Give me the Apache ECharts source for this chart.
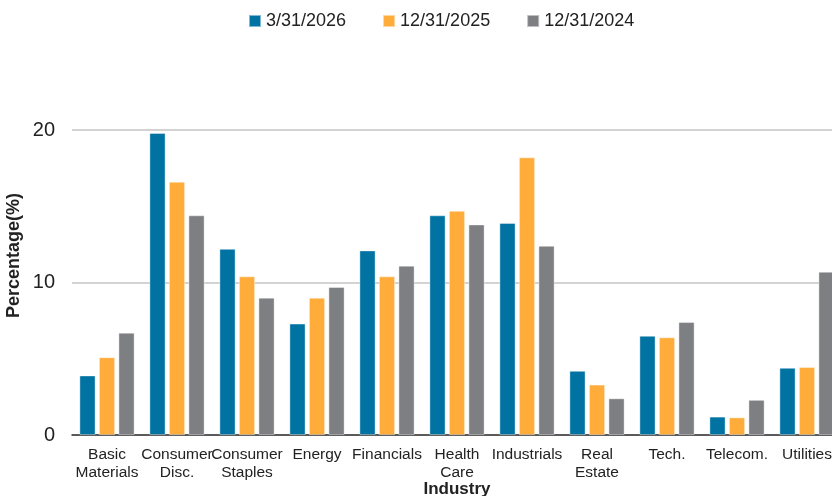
<!DOCTYPE html>
<html><head><meta charset="utf-8">
<script src="https://cdn.jsdelivr.net/npm/echarts@6/dist/echarts.min.js"></script>
<style>html,body{margin:0;padding:0;background:#fff}#c{width:832px;height:496px}</style>
</head><body><div id="c"></div>
<script>
const categories = ["Basic\nMaterials","Consumer\nDisc.","Consumer\nStaples","Energy","Financials","Health\nCare","Industrials","Real\nEstate","Tech.","Telecom.","Utilities"];
const seriesNames = ["3/31/2026","12/31/2025","12/31/2024"];
const s2026q1 = [3.9,19.8,12.2,7.3,12.1,14.4,13.9,4.2,6.5,1.2,4.4];
const s2025 = [5.1,16.6,10.4,9.0,10.4,14.7,18.2,3.3,6.4,1.15,4.45];
const s2024 = [6.7,14.4,9.0,9.7,11.1,13.8,12.4,2.4,7.4,2.3,10.7];
const yTicks = [0,10,20];
const colors = ["#0073A3","#FFAC3A","#7D7F83"];

const chart = echarts.init(document.getElementById('c'), null, {renderer:'canvas'});
const font = "'Liberation Sans', Arial, sans-serif";
const barStyle = {borderColor:'rgba(255,255,255,0.5)', borderWidth:0.8};
chart.setOption({
  animation:false,
  color: colors,
  legend:{
    top:7, left:243, itemWidth:12, itemHeight:12, itemGap:36,
    icon:'rect',
    textStyle:{fontSize:18, color:'#222', fontFamily:font},
    data: seriesNames
  },
  grid:{left:72, top:130, width:770, bottom:61, containLabel:false, outerBoundsMode:'none'},
  xAxis:{
    type:'category', data:categories,
    name:'Industry', nameLocation:'middle', nameGap:54, nameMoveOverlap:false,
    nameTextStyle:{fontSize:17, fontWeight:'bold', color:'#222', fontFamily:font, verticalAlign:'middle'},
    axisLine:{lineStyle:{color:'#333', width:1.5}},
    axisTick:{show:false},
    axisLabel:{interval:0, fontSize:15.5, color:'#222', lineHeight:18, fontFamily:font, margin:11},
    splitLine:{show:false}
  },
  yAxis:{
    type:'value', min:yTicks[0], max:yTicks[yTicks.length-1], interval:10,
    name:'Percentage(%)', nameLocation:'middle', nameGap:49, nameRotate:90, nameMoveOverlap:false,
    nameTextStyle:{fontSize:18, fontWeight:'bold', color:'#222', fontFamily:font, padding:[0,0,0,54]},
    axisLine:{show:false}, axisTick:{show:false},
    axisLabel:{fontSize:20, color:'#222', fontFamily:font, margin:17},
    splitLine:{lineStyle:{color:'#c4c4c4', width:1.5}}
  },
  series:[
    {name:seriesNames[0], type:'bar', data:s2026q1, barWidth:16, barGap:'22%', itemStyle:barStyle},
    {name:seriesNames[1], type:'bar', data:s2025, barWidth:16, barGap:'22%', itemStyle:barStyle},
    {name:seriesNames[2], type:'bar', data:s2024, barWidth:16, barGap:'22%', itemStyle:barStyle}
  ]
});
</script></body></html>
